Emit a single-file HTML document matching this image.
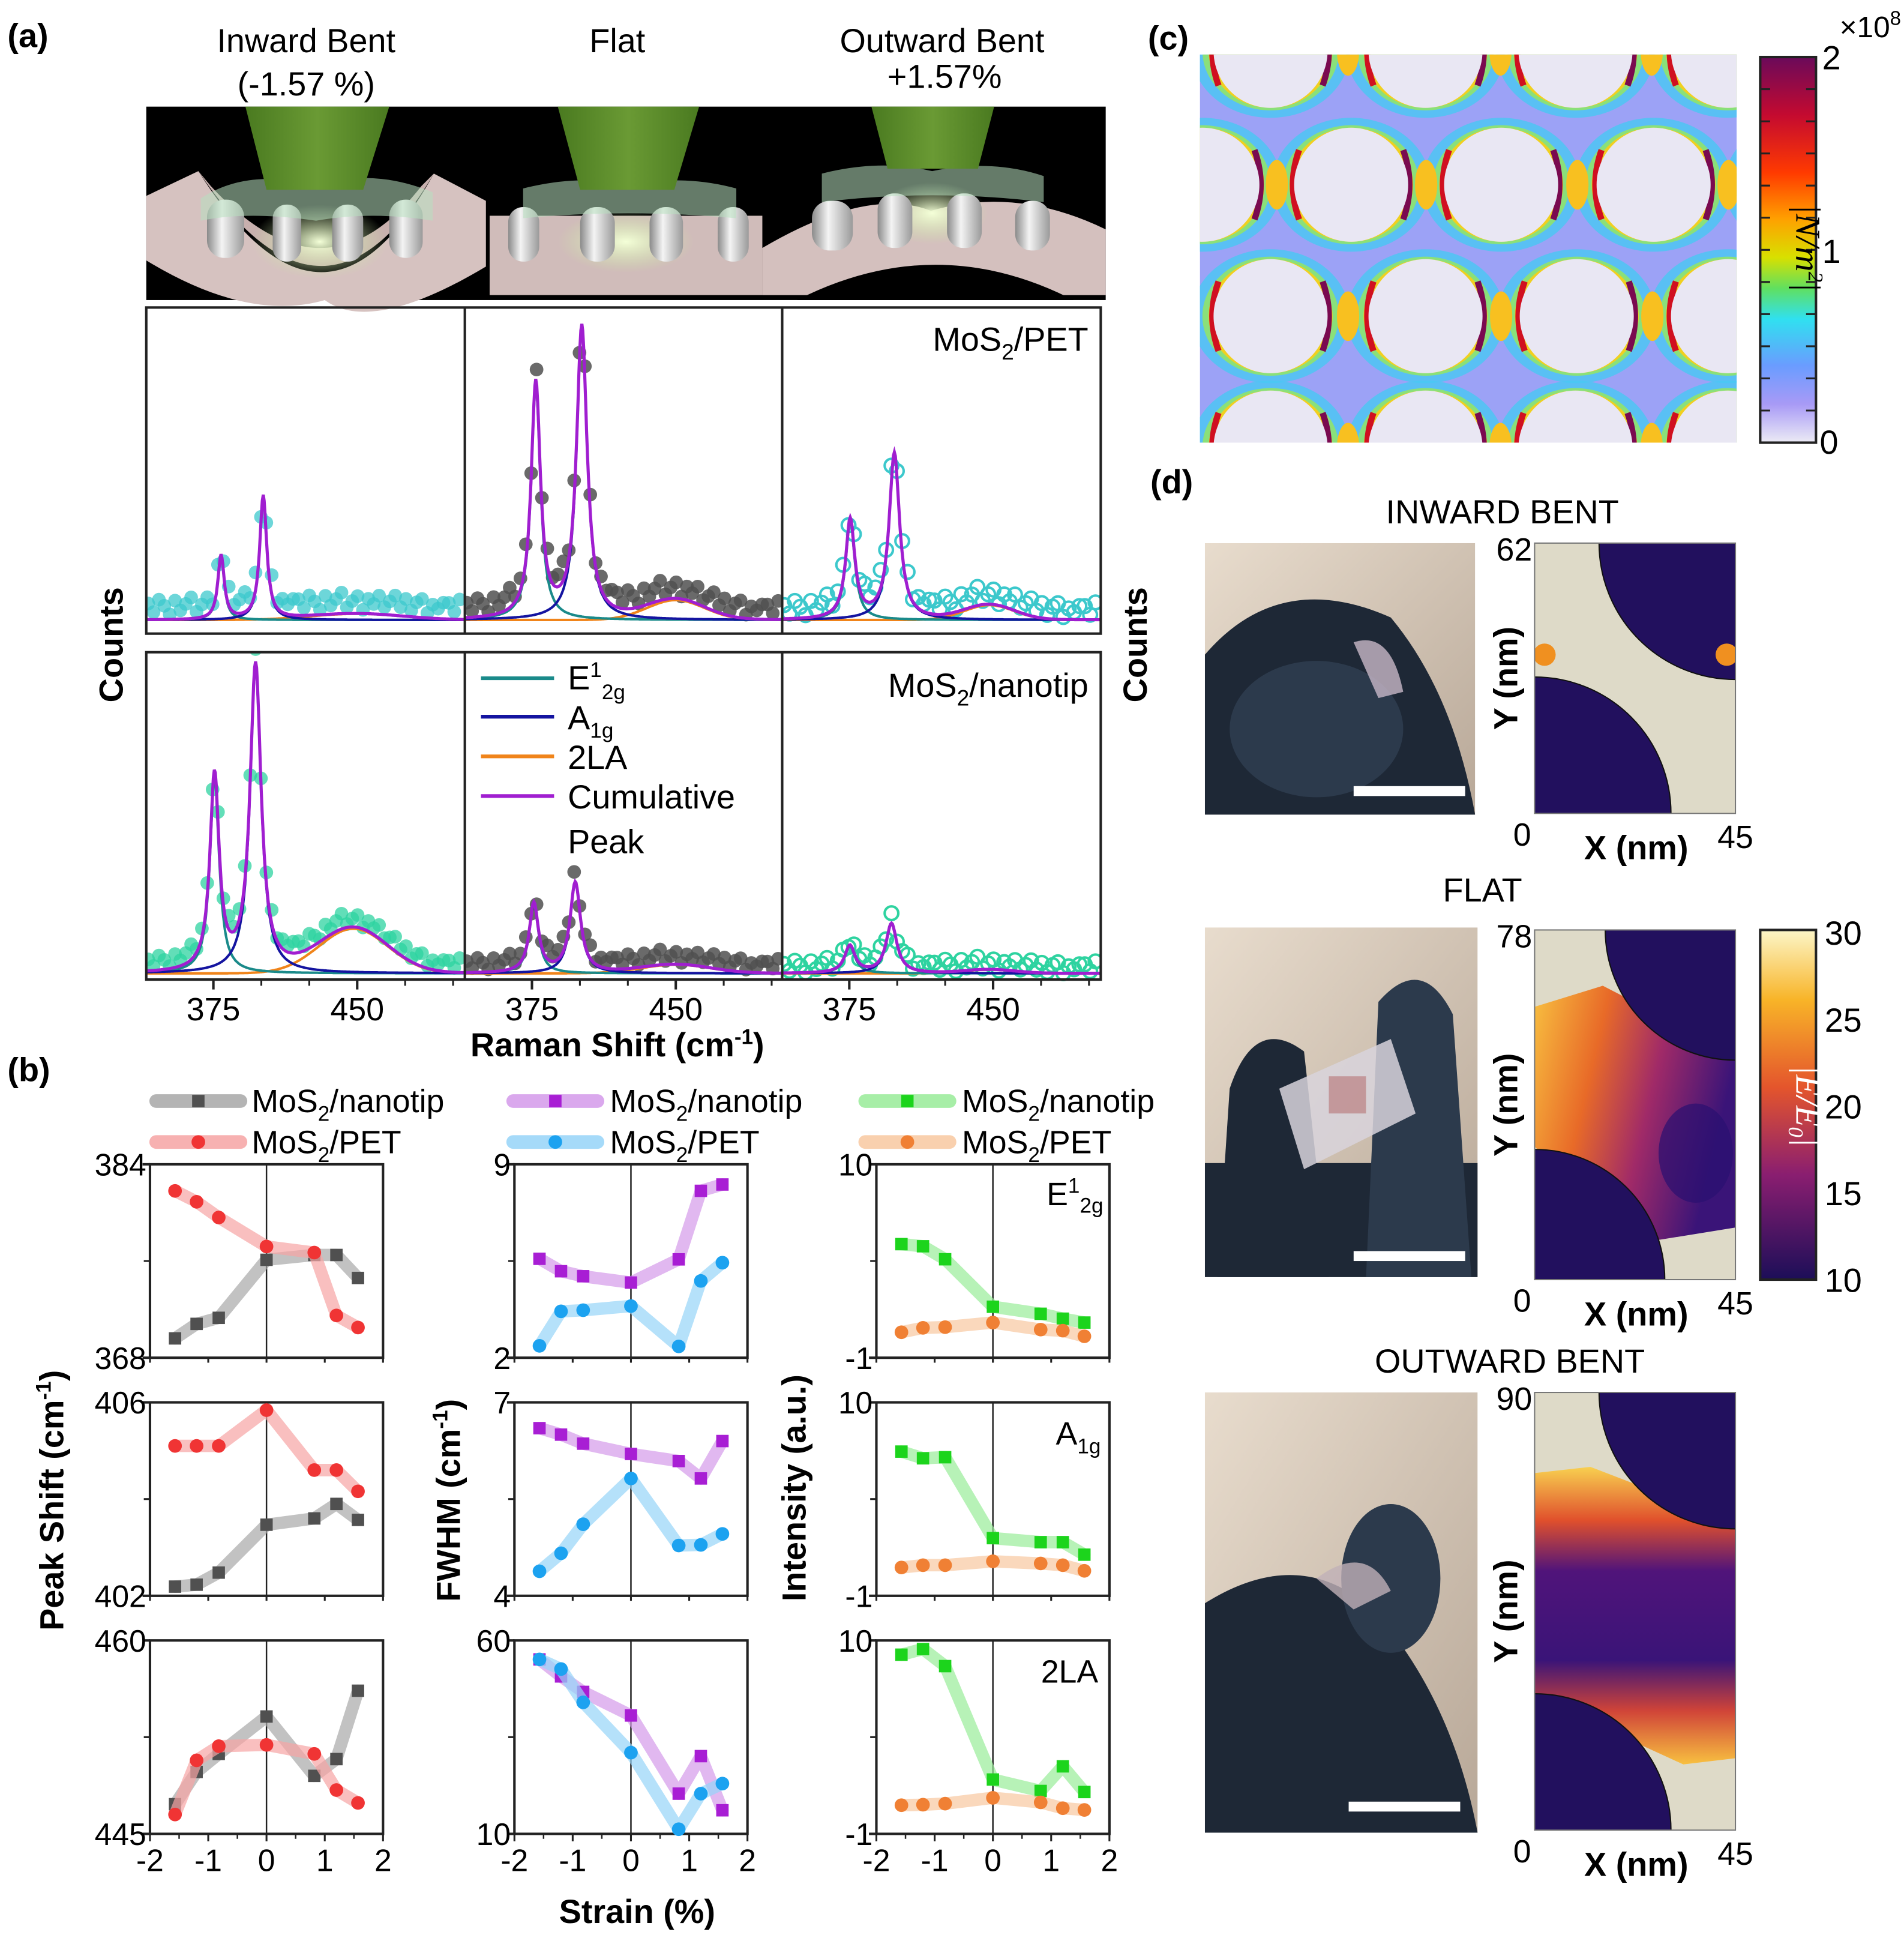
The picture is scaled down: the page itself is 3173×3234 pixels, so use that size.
<!DOCTYPE html>
<html><head><meta charset="utf-8">
<style>
html,body{margin:0;padding:0;background:#fff;}
svg{display:block;font-family:"Liberation Sans",Arial,sans-serif;}
</style></head>
<body>
<svg id="fig" xmlns="http://www.w3.org/2000/svg" width="3173" height="3234" viewBox="0 0 1536 1565.4" preserveAspectRatio="none">
<defs>
<linearGradient id="cbN" x1="0" y1="0" x2="0" y2="1">
<stop offset="0" stop-color="#6a0a5a"/><stop offset="0.15" stop-color="#c40a30"/><stop offset="0.3" stop-color="#ff3a00"/><stop offset="0.42" stop-color="#ffa000"/><stop offset="0.52" stop-color="#d8e000"/><stop offset="0.6" stop-color="#60e060"/><stop offset="0.68" stop-color="#30e0f0"/><stop offset="0.8" stop-color="#6a9cff"/><stop offset="0.9" stop-color="#a89af6"/><stop offset="1" stop-color="#ecebf5"/>
</linearGradient>
<linearGradient id="cbE" x1="0" y1="0" x2="0" y2="1">
<stop offset="0" stop-color="#fcf6c8"/><stop offset="0.2" stop-color="#f8b428"/><stop offset="0.45" stop-color="#e4552c"/><stop offset="0.7" stop-color="#8a1e70"/><stop offset="1" stop-color="#1c0e58"/>
</linearGradient>
<linearGradient id="flatField" x1="0" y1="0" x2="1" y2="0.3">
<stop offset="0" stop-color="#f8c040"/><stop offset="0.35" stop-color="#e86a28"/><stop offset="0.65" stop-color="#a02a68"/><stop offset="1" stop-color="#3a1478"/>
</linearGradient>
<linearGradient id="outField" x1="0" y1="0" x2="0" y2="1">
<stop offset="0" stop-color="#f8d050"/><stop offset="0.18" stop-color="#e0502c"/><stop offset="0.35" stop-color="#50147a"/><stop offset="0.65" stop-color="#3a1478"/><stop offset="0.82" stop-color="#d04438"/><stop offset="1" stop-color="#f8c040"/>
</linearGradient>
<radialGradient id="glow" cx="0.5" cy="0.5" r="0.5"><stop offset="0" stop-color="#f4ffd8"/><stop offset="1" stop-color="#c8e8a0" stop-opacity="0"/></radialGradient>
<linearGradient id="pill" x1="0" y1="0" x2="1" y2="0"><stop offset="0" stop-color="#8a8a8a"/><stop offset="0.4" stop-color="#f4f4f4"/><stop offset="1" stop-color="#9a9a9a"/></linearGradient>
<linearGradient id="cone" x1="0" y1="0" x2="1" y2="0"><stop offset="0" stop-color="#4a7a20"/><stop offset="0.5" stop-color="#6a9a34"/><stop offset="1" stop-color="#4a7a20"/></linearGradient>
<linearGradient id="photoBg" x1="0" y1="0" x2="1" y2="1"><stop offset="0" stop-color="#e8dccd"/><stop offset="1" stop-color="#b8a898"/></linearGradient>
</defs>

<text x="6" y="38" font-size="27" font-weight="bold">(a)</text>
<text x="6" y="872" font-size="27" font-weight="bold">(b)</text>
<text x="926" y="40" font-size="27" font-weight="bold">(c)</text>
<text x="928" y="398" font-size="27" font-weight="bold">(d)</text>

<g font-size="27" text-anchor="middle">
<text x="247" y="42">Inward Bent</text>
<text x="247" y="77">(-1.57 %)</text>
<text x="498" y="42">Flat</text>
<text x="760" y="42">Outward Bent</text>
<text x="762" y="71">+1.57%</text>
</g>

<g>
<rect x="118" y="86" width="774" height="156" fill="#000"/>
<path d="M118,158 L160,138 Q262,300 350,140 L392,162 L392,215 Q300,270 262,242 Q200,260 118,210 Z" fill="#d6c2c0"/>
<path d="M160,138 Q262,290 350,140 L340,150 Q262,250 170,150 Z" fill="#c8b0ae"/>
<ellipse cx="258" cy="195" rx="55" ry="30" fill="url(#glow)"/>
<g fill="url(#pill)"><rect x="167" y="161" width="30" height="47" rx="14"/><rect x="220" y="165" width="23" height="46" rx="11"/><rect x="268" y="165" width="25" height="46" rx="12"/><rect x="314" y="161" width="27" height="47" rx="13"/></g>
<path d="M162,160 Q200,135 255,150 Q300,135 349,155 L349,178 Q300,170 255,178 Q200,170 162,178 Z" fill="#b8e0c0" opacity="0.55"/>
<polygon points="198,86 314,86 293,153 215,153" fill="url(#cone)"/>
<rect x="395" y="174" width="220" height="64" fill="#d0bcba"/>
<ellipse cx="505" cy="195" rx="55" ry="25" fill="url(#glow)"/>
<g fill="url(#pill)"><rect x="410" y="167" width="25" height="44" rx="12"/><rect x="468" y="167" width="28" height="44" rx="13"/><rect x="524" y="167" width="27" height="44" rx="13"/><rect x="579" y="167" width="25" height="44" rx="12"/></g>
<path d="M422,152 Q470,140 505,150 Q550,140 594,152 L594,176 Q505,168 422,176 Z" fill="#b8e0c0" opacity="0.55"/>
<polygon points="450,86 564,86 544,153 468,153" fill="url(#cone)"/>
<path d="M615,238 L615,200 Q700,150 751,170 Q820,150 892,185 L892,238 Z" fill="#d4c0be"/>
<path d="M643,242 Q755,185 866,242 Z" fill="#000"/>
<ellipse cx="752" cy="172" rx="45" ry="25" fill="url(#glow)"/>
<g fill="url(#pill)"><rect x="655" y="162" width="33" height="40" rx="14"/><rect x="708" y="156" width="28" height="44" rx="13"/><rect x="764" y="156" width="28" height="44" rx="13"/><rect x="819" y="162" width="28" height="40" rx="13"/></g>
<path d="M663,140 Q710,128 752,138 Q800,128 842,142 L842,163 Q752,152 663,163 Z" fill="#b8e0c0" opacity="0.55"/>
<polygon points="703,86 802,86 789,136 716,136" fill="url(#cone)"/>
</g>

<g id="raman"></g>
<text x="0" y="0" font-size="27" font-weight="bold" text-anchor="middle" transform="translate(99,520) rotate(-90)">Counts</text>
<text x="498" y="852" font-size="27" font-weight="bold" text-anchor="middle">Raman Shift (cm<tspan dy="-10" font-size="17">-1</tspan><tspan dy="10">)</tspan></text>
<text x="0" y="0" font-size="27" font-weight="bold" text-anchor="middle" transform="translate(925,520) rotate(-90)">Counts</text>
<text x="878" y="283" font-size="27" text-anchor="end">MoS<tspan dy="7" font-size="18">2</tspan><tspan dy="-7">/PET</tspan></text>
<text x="878" y="562" font-size="27" text-anchor="end">MoS<tspan dy="7" font-size="18">2</tspan><tspan dy="-7">/nanotip</tspan></text>
<g font-size="27">
<line x1="388" y1="547" x2="447" y2="547" stroke="#1a8a8a" stroke-width="3"/>
<text x="458" y="556">E<tspan dy="-10" font-size="17">1</tspan><tspan dy="18" font-size="17">2g</tspan></text>
<line x1="388" y1="578" x2="447" y2="578" stroke="#1414a0" stroke-width="3"/>
<text x="458" y="588">A<tspan dy="7" font-size="17">1g</tspan></text>
<line x1="388" y1="610" x2="447" y2="610" stroke="#f0841a" stroke-width="3"/>
<text x="458" y="620">2LA</text>
<line x1="388" y1="642" x2="447" y2="642" stroke="#a01ed0" stroke-width="3"/>
<text x="458" y="652">Cumulative</text>
<text x="458" y="688">Peak</text>
</g>

<g font-size="26">
<text x="203" y="897">MoS<tspan dy="7" font-size="17">2</tspan><tspan dy="-7">/nanotip</tspan></text>
<text x="203" y="930">MoS<tspan dy="7" font-size="17">2</tspan><tspan dy="-7">/PET</tspan></text>
<text x="492" y="897">MoS<tspan dy="7" font-size="17">2</tspan><tspan dy="-7">/nanotip</tspan></text>
<text x="492" y="930">MoS<tspan dy="7" font-size="17">2</tspan><tspan dy="-7">/PET</tspan></text>
<text x="776" y="897">MoS<tspan dy="7" font-size="17">2</tspan><tspan dy="-7">/nanotip</tspan></text>
<text x="776" y="930">MoS<tspan dy="7" font-size="17">2</tspan><tspan dy="-7">/PET</tspan></text>
</g>
<g id="strain"></g>
<text font-size="27" font-weight="bold" text-anchor="middle" transform="translate(51,1210) rotate(-90)">Peak Shift (cm<tspan dy="-10" font-size="17">-1</tspan><tspan dy="10">)</tspan></text>
<text font-size="27" font-weight="bold" text-anchor="middle" transform="translate(371,1210) rotate(-90)">FWHM (cm<tspan dy="-10" font-size="17">-1</tspan><tspan dy="10">)</tspan></text>
<text font-size="27" font-weight="bold" text-anchor="middle" transform="translate(650,1200) rotate(-90)">Intensity (a.u.)</text>
<text x="514" y="1551" font-size="27" font-weight="bold" text-anchor="middle">Strain (%)</text>
<text x="890" y="972" font-size="26" text-anchor="end">E<tspan dy="-10" font-size="17">1</tspan><tspan dy="16" font-size="17">2g</tspan></text>
<text x="888" y="1165" font-size="26" text-anchor="end">A<tspan dy="7" font-size="17">1g</tspan></text>
<text x="886" y="1357" font-size="26" text-anchor="end">2LA</text>

<g>
<clipPath id="clipC"><rect x="968" y="44" width="433" height="313"/></clipPath>
<g id="stressMap" clip-path="url(#clipC)"></g>
</g>
<rect x="1420" y="46" width="45" height="311" fill="url(#cbN)" stroke="#222" stroke-width="2"/>
<g stroke="#222" stroke-width="1.5" id="cbNticks"></g>
<text font-size="28" font-style="italic" font-family="Liberation Serif,serif" text-anchor="middle" transform="translate(1449,200) rotate(90)">|N/m<tspan dy="-10" font-size="17">2</tspan><tspan dy="10">|</tspan></text>
<g font-size="27">
<text x="1470" y="56">2</text>
<text x="1470" y="212">1</text>
<text x="1468" y="366">0</text>
<text x="1484" y="30" font-size="24">×10<tspan dy="-10" font-size="16">8</tspan></text>
</g>

<g font-size="27" text-anchor="middle">
<text x="1212" y="422">INWARD BENT</text>
<text x="1196" y="727">FLAT</text>
<text x="1218" y="1107">OUTWARD BENT</text>
</g>
<g id="photos"></g>
<g id="maps"></g>
<rect x="1420" y="750" width="45" height="282" fill="url(#cbE)" stroke="#222" stroke-width="2"/>
<text font-size="28" font-style="italic" font-family="Liberation Serif,serif" text-anchor="middle" fill="#fff" transform="translate(1449,892) rotate(90)">|E/E<tspan dy="6" font-size="17">0</tspan><tspan dy="-6">|</tspan></text>
<g font-size="27">
<text x="1472" y="762">30</text>
<text x="1472" y="832">25</text>
<text x="1472" y="902">20</text>
<text x="1472" y="972">15</text>
<text x="1472" y="1042">10</text>
</g>
</svg>

<script>
// ---------------- Raman data ----------------
const ramanPeakE = [379.0, 377.0, 375.5, 375.6, 376.0, 375.3];
const ramanPeakA = [401.0, 401.0, 398.5, 397.0, 397.6, 397.0];
const ramanPeak2LA = [450, 450, 448, 448, 450, 448];
const ramanHeightE = [52, 190, 80, 158, 56, 22];
const ramanHeightA = [100, 236, 134, 248, 73, 40];
const ramanHeight2LA = [5, 16, 12, 36, 7, 3];
const ramanWidthE = [2.0, 2.9, 2.9, 2.9, 2.9, 3.3];
const ramanWidthA = [2.2, 3.3, 3.3, 3.5, 3.3, 3.5];
const ramanWidth2LA = [24, 15, 13, 18, 18, 13];
const ramanNoise = [4,-3,7,2,-5,6,-2,3,8,-4,1,5,-6,3,-1,6,-3,2,7,-2,5,-4,3,6,-5,2,-1,4];
const ramanDotOffset = [9, 8, 7, 6, 6, 4];
const ramanTicks = [375, 450];
const ramanMinorTicks = [400, 425, 475, 500];

// ---------------- Strain data ----------------
const strainX = [-1.57, -1.2, -0.82, 0, 0.82, 1.2, 1.57];
const strainTicks = [-2, -1, 0, 1, 2];
const shiftE_nanotip = [369.6, 370.8, 371.3, 376.1, 376.5, 376.5, 374.6];
const shiftE_pet = [381.8, 380.9, 379.6, 377.2, 376.7, 371.5, 370.5];
const shiftA_pet = [405.1, 405.1, 405.1, 405.84, 404.6, 404.6, 404.16];
const shiftA_nanotip = [402.19, 402.23, 402.48, 403.47, 403.6, 403.9, 403.57];
const shift2LA_nanotip = [447.3, 449.8, 451.2, 454.1, 449.5, 450.8, 456.1];
const shift2LA_pet = [446.5, 450.7, 451.8, 451.9, 451.2, 448.4, 447.4];
const fwhmE_nanotip = [5.58, 5.13, 4.95, 4.72, 5.56, 8.04, 8.27];
const fwhmE_pet = [2.43, 3.68, 3.72, 3.87, 2.41, 4.78, 5.44];
const fwhmA_nanotip = [6.6, 6.5, 6.36, 6.2, 6.09, 5.82, 6.4];
const fwhmA_pet = [4.38, 4.66, 5.11, 5.82, 4.78, 4.79, 4.96];
const fwhm2LA_nanotip = [55.1, 50.7, 46.7, 40.6, 20.4, 30.1, 16.1];
const fwhm2LA_pet = [55.1, 52.6, 44.0, 31.0, 11.2, 20.4, 23.0];
const intE_nanotip = [5.46, 5.34, 4.6, 1.9, 1.5, 1.22, 1.0];
const intE_pet = [0.45, 0.7, 0.74, 1.0, 0.6, 0.54, 0.22];
const intA_nanotip = [7.2, 6.82, 6.88, 2.28, 2.05, 2.05, 1.34];
const intA_pet = [0.61, 0.74, 0.74, 0.96, 0.84, 0.74, 0.42];
const int2LA_nanotip = [9.19, 9.51, 8.54, 2.09, 1.44, 2.84, 1.38];
const int2LA_pet = [0.63, 0.66, 0.72, 1.05, 0.79, 0.46, 0.36];

const NS = 'http://www.w3.org/2000/svg';
function mk(tag, attrs, parent){ const e=document.createElementNS(NS,tag); for(const k in attrs) e.setAttribute(k,attrs[k]); parent.appendChild(e); return e; }

// ---------------- Raman drawing ----------------
(function(){
  const g = document.getElementById('raman');
  const colsX = [118, 375, 631];
  const rowsTop = [248, 525];
  const rowsBase = [500, 785];
  const cmMin = 340, cmMax = 506;
  const ppc = 1.547;
  const dotStyle = [
    {fill:'#3cc8cc', stroke:'none', op:0.75},
    {fill:'#505050', stroke:'none', op:0.85},
    {fill:'none', stroke:'#3cc8cc', op:1},
    {fill:'#2ed3a0', stroke:'none', op:0.75},
    {fill:'#505050', stroke:'none', op:0.85},
    {fill:'none', stroke:'#2ed3a0', op:1}
  ];
  for(let p=0;p<6;p++){
    const r = Math.floor(p/3), c = p%3;
    const x0 = colsX[c], base = rowsBase[r];
    const xs = cm => x0 + (cm-cmMin)*ppc;
    const ys = v => base - v;
    const fE = x => ramanHeightE[p]/(1+Math.pow((x-ramanPeakE[p])/ramanWidthE[p],2));
    const fA = x => ramanHeightA[p]/(1+Math.pow((x-ramanPeakA[p])/ramanWidthA[p],2));
    const fL = x => ramanHeight2LA[p]*Math.exp(-Math.pow((x-ramanPeak2LA[p])/ramanWidth2LA[p],2)/2);
    const fC = x => fE(x)+fA(x)+fL(x);
    const clipId = 'rc'+p;
    const cp = mk('clipPath',{id:clipId},g);
    mk('rect',{x:x0,y:rowsTop[r],width:257,height:base-rowsTop[r]+10},cp);
    const pg = mk('g',{'clip-path':'url(#'+clipId+')'},g);
    let i=0;
    for(let x=cmMin+1;x<=cmMax-1;x+=2.8){
      const v = fC(x) + ramanDotOffset[p] + ramanNoise[i%ramanNoise.length]*(r===0?1:0.8);
      const st = dotStyle[p];
      const d = mk('circle',{cx:xs(x),cy:ys(v),r:5.5,fill:st.fill,stroke:st.stroke,'stroke-width':2,opacity:st.op},pg);
      
      
      i++;
    }
    const fns = [[fL,'#f0841a'],[fE,'#1a8a8a'],[fA,'#1414a0'],[fC,'#a01ed0']];
    const names = ['curve-2la','curve-e12g','curve-a1g','curve-cumulative'];
    fns.forEach((f,k)=>{
      const fn = f[0];
      let pts=[];
      for(let x=cmMin;x<=cmMax;x+=0.5) pts.push(xs(x).toFixed(1)+','+ys(fn(x)).toFixed(1));
      const l = mk('polyline',{points:pts.join(' '),fill:'none',stroke:f[1],'stroke-width':k===3?2.5:2},pg);
      
      
    });
  }
  const fr1 = mk('rect',{x:118,y:248,width:770,height:263,fill:'none',stroke:'#222','stroke-width':2},g);
  
  
  const fr2 = mk('rect',{x:118,y:526,width:770,height:264,fill:'none',stroke:'#222','stroke-width':2},g);
  
  
  [375,631].forEach(x=>{
    mk('line',{x1:x,y1:248,x2:x,y2:511,stroke:'#222','stroke-width':2},g);
    mk('line',{x1:x,y1:526,x2:x,y2:790,stroke:'#222','stroke-width':2},g);
  });
  colsX.forEach(x0=>{
    ramanTicks.forEach(t=>{
      const x = x0+(t-cmMin)*ppc;
      mk('line',{x1:x,y1:790,x2:x,y2:798,stroke:'#222','stroke-width':2},g);
      const tx = mk('text',{x:x,y:823,'font-size':26,'text-anchor':'middle'},g);
      tx.textContent = t;
      
      
    });
    ramanMinorTicks.forEach(t=>{
      const x = x0+(t-cmMin)*ppc;
      mk('line',{x1:x,y1:790,x2:x,y2:795,stroke:'#222','stroke-width':1.5},g);
    });
  });
})();

// ---------------- Strain drawing ----------------
(function(){
  const g = document.getElementById('strain');
  const colX = [121, 415, 707], W = 188;
  const rowY = [939, 1131, 1323], H = 156;
  const ranges = [[[368,384],[402,406],[445,460]],[[2,9],[4,7],[10,60]],[[-1,10],[-1,10],[-1,10]]];
  const series = [
    [[shiftE_nanotip, shiftE_pet],[shiftA_nanotip, shiftA_pet],[shift2LA_nanotip, shift2LA_pet]],
    [[fwhmE_nanotip, fwhmE_pet],[fwhmA_nanotip, fwhmA_pet],[fwhm2LA_nanotip, fwhm2LA_pet]],
    [[intE_nanotip, intE_pet],[intA_nanotip, intA_pet],[int2LA_nanotip, int2LA_pet]]
  ];
  const colors = [
    [['#a8a8a8','#505050'],['#f6a4a4','#f03434']],
    [['#d49aea','#a81ed4'],['#96d4f8','#1ca2f0']],
    [['#98ec98','#1cd41c'],['#f8c8a0','#f08034']]
  ];
  for(let c=0;c<3;c++){
    const ly = [888, 921];
    const lx0 = [126,414,698][c];
    for(let s=0;s<2;s++){
      const col = colors[c][s];
      mk('line',{x1:lx0,y1:ly[s],x2:lx0+68,y2:ly[s],stroke:col[0],'stroke-width':11,'stroke-linecap':'round',opacity:0.85},g);
      if(s===0){ const m=mk('rect',{x:lx0+29,y:ly[s]-5,width:10,height:10,fill:col[1]},g);   }
      else { const m=mk('circle',{cx:lx0+34,cy:ly[s],r:5.5,fill:col[1]},g);   }
    }
    for(let r=0;r<3;r++){
      const x0=colX[c], y0=rowY[r];
      const ymin=ranges[c][r][0], ymax=ranges[c][r][1];
      const xs = v => x0 + (v+2)/4*W;
      const ys = v => y0 + H - (v-ymin)/(ymax-ymin)*H;
      const frame = mk('rect',{x:x0,y:y0,width:W,height:H,fill:'none',stroke:'#222','stroke-width':2},g);
      
      
      mk('line',{x1:xs(0),y1:y0,x2:xs(0),y2:y0+H,stroke:'#222','stroke-width':1.2},g);
      [ymin,ymax].forEach(v=>{
        mk('line',{x1:x0-6,y1:ys(v),x2:x0,y2:ys(v),stroke:'#222','stroke-width':2},g);
        const t = mk('text',{x:x0-3,y:ys(v)+9,'font-size':25,'text-anchor':'end'},g);
        t.textContent = v;
        
        
      });
      mk('line',{x1:x0-5,y1:ys((ymin+ymax)/2),x2:x0,y2:ys((ymin+ymax)/2),stroke:'#222','stroke-width':1.5},g);
      strainTicks.forEach(v=>{
        mk('line',{x1:xs(v),y1:y0+H,x2:xs(v),y2:y0+H+(r===2?6:4),stroke:'#222','stroke-width':1.5},g);
        if(r===2){
          const t = mk('text',{x:xs(v),y:y0+H+30,'font-size':25,'text-anchor':'middle'},g);
          t.textContent = v;
          
          
        }
      });
      if(r===2) [-1.5,-0.5,0.5,1.5].forEach(v=>{ mk('line',{x1:xs(v),y1:y0+H,x2:xs(v),y2:y0+H+4,stroke:'#222','stroke-width':1.2},g); });
      for(let s=0;s<2;s++){
        const data = series[c][r][s];
        const col = colors[c][s];
        const pts = strainX.map((x,i)=>xs(x).toFixed(1)+','+ys(data[i]).toFixed(1)).join(' ');
        const line = mk('polyline',{points:pts,fill:'none',stroke:col[0],'stroke-width':10,'stroke-linejoin':'round','stroke-linecap':'round',opacity:0.7},g);
        
        
        strainX.forEach((x,i)=>{
          let m;
          if(s===0) m = mk('rect',{x:xs(x)-5,y:ys(data[i])-5,width:10,height:10,fill:col[1]},g);
          else m = mk('circle',{cx:xs(x),cy:ys(data[i]),r:5.5,fill:col[1]},g);
          
          
        });
      }
    }
  }
})();

// ---------------- (c) stress map ----------------
(function(){
  const g = document.getElementById('stressMap');
  mk('rect',{x:968,y:44,width:433,height:313,fill:'#9ca2f6'},g);
  const rowsY = [41,149,255,361];
  const rowsX = [[1025,1150,1271,1394],[970,1090,1211,1334,1455],[1025,1150,1272,1394],[1025,1150,1271,1394]];
  const R = 46;
  rowsY.forEach((cy,ri)=>{
    rowsX[ri].forEach(cx=>{
      mk('ellipse',{cx:cx,cy:cy,rx:R+18,ry:R+8,fill:'#48c8f4',opacity:0.8},g);
    });
  });
  rowsY.forEach((cy,ri)=>{
    rowsX[ri].forEach(cx=>{
      mk('ellipse',{cx:cx,cy:cy,rx:R+9,ry:R+2,fill:'#8ae07a'},g);
      mk('ellipse',{cx:cx,cy:cy,rx:R+4,ry:R,fill:'#f0d020'},g);
    });
  });
  rowsY.forEach((cy,ri)=>{
    const xsRow = rowsX[ri];
    for(let k=0;k<xsRow.length-1;k++){
      const mx=(xsRow[k]+xsRow[k+1])/2;
      mk('ellipse',{cx:mx,cy:cy,rx:9,ry:20,fill:'#f8c020'},g);
    }
    xsRow.forEach(cx=>{
      mk('path',{d:`M${cx-R+4},${cy-28} Q${cx-R-6},${cy} ${cx-R+4},${cy+28}`,fill:'none',stroke:'#d01020','stroke-width':5},g);
      mk('path',{d:`M${cx+R-4},${cy-28} Q${cx+R+6},${cy} ${cx+R-4},${cy+28}`,fill:'none',stroke:'#7a0a50','stroke-width':5},g);
      const c = mk('ellipse',{cx:cx,cy:cy,rx:R,ry:R,fill:'#e9e7f3'},g);
      
      
    });
  });
  const cbt = document.getElementById('cbNticks');
  for(let k=1;k<12;k++){ const y=46+k*311/12; mk('line',{x1:1420,y1:y,x2:1428,y2:y},cbt); mk('line',{x1:1457,y1:y,x2:1465,y2:y},cbt); }
})();

// ---------------- (d) photos ----------------
(function(){
  const g = document.getElementById('photos');
  const boxes = [[972,438,218,219,638],[972,748,220,282,1013],[972,1123,220,355,1457]];
  boxes.forEach((b,i)=>{
    const x=b[0],y=b[1],w=b[2],h=b[3],sb=b[4];
    const cp = mk('clipPath',{id:'ph'+i},g);
    mk('rect',{x:x,y:y,width:w,height:h},cp);
    const pg = mk('g',{'clip-path':'url(#ph'+i+')'},g);
    const bg = mk('rect',{x:x,y:y,width:w,height:h,fill:'url(#photoBg)'},pg);
    
    
    const glove='#1e2836', glove2='#2c3a4c';
    if(i===0){
      mk('path',{d:`M${x},${y+90} Q${x+60},${y+20} ${x+150},${y+60} Q${x+200},${y+120} ${x+218},${y+219} L${x},${y+219} Z`,fill:glove},pg);
      mk('ellipse',{cx:x+90,cy:y+150,rx:70,ry:55,fill:glove2},pg);
      mk('path',{d:`M${x+120},${y+80} Q${x+150},${y+70} ${x+160},${y+120} L${x+140},${y+125} Z`,fill:'#c8b8c8',opacity:0.8},pg);
    } else if(i===1){
      mk('rect',{x:x,y:y+190,width:w,height:100,fill:glove},pg);
      mk('path',{d:`M${x+10},${y+282} L${x+20},${y+130} Q${x+40},${y+70} ${x+80},${y+100} L${x+100},${y+282} Z`,fill:glove},pg);
      mk('path',{d:`M${x+130},${y+282} L${x+140},${y+60} Q${x+175},${y+20} ${x+200},${y+70} L${x+215},${y+282} Z`,fill:glove2},pg);
      mk('polygon',{points:`${x+60},${y+130} ${x+150},${y+90} ${x+170},${y+150} ${x+80},${y+195}`,fill:'#d8d4dc',opacity:0.85},pg);
      mk('rect',{x:x+100,y:y+120,width:30,height:30,fill:'#b06060',opacity:0.5},pg);
    } else {
      mk('path',{d:`M${x},${y+170} Q${x+80},${y+120} ${x+140},${y+180} Q${x+200},${y+250} ${x+220},${y+355} L${x},${y+355} Z`,fill:glove},pg);
      mk('ellipse',{cx:x+150,cy:y+150,rx:40,ry:60,fill:glove2},pg);
      mk('path',{d:`M${x+90},${y+150} Q${x+130},${y+120} ${x+150},${y+160} L${x+120},${y+175} Z`,fill:'#c0b0b8',opacity:0.8},pg);
    }
    const bar = mk('rect',{x:x+(i===2?116:120),y:sb-4,width:90,height:8,fill:'#fff'},g);
    
    
  });
})();

// ---------------- (d) field maps ----------------
(function(){
  const g = document.getElementById('maps');
  const maps = [[1238,438,162,218,'62',110],[1238,750,162,282,'78',105],[1238,1123,162,353,'90',110]];
  maps.forEach((m,i)=>{
    const x=m[0],y=m[1],w=m[2],h=m[3],top=m[4],R=m[5];
    const cp = mk('clipPath',{id:'mp'+i},g);
    mk('rect',{x:x,y:y,width:w,height:h},cp);
    const pg = mk('g',{'clip-path':'url(#mp'+i+')'},g);
    const bg = mk('rect',{x:x,y:y,width:w,height:h,fill:'#dedac8'},pg);
    
    
    if(i===1){
      mk('polygon',{points:`${x},${y+62} ${x+55},${y+45} ${x+162},${y+100} ${x+162},${y+240} ${x+100},${y+250} ${x},${y+175}`,fill:'url(#flatField)'},pg);
      mk('ellipse',{cx:x+130,cy:y+180,rx:30,ry:40,fill:'#2a1070',opacity:0.7},pg);
    } else if(i===2){
      mk('polygon',{points:`${x},${y+65} ${x+45},${y+60} ${x+162},${y+105} ${x+162},${y+295} ${x+120},${y+300} ${x},${y+245}`,fill:'url(#outField)'},pg);
    }
    mk('circle',{cx:x+w,cy:y,r:R,fill:'#22105e',stroke:'#111','stroke-width':1},pg);
    mk('circle',{cx:x,cy:y+h,r:R,fill:'#22105e',stroke:'#111','stroke-width':1},pg);
    if(i===0){
      mk('circle',{cx:x+8,cy:y+90,r:9,fill:'#f09020'},pg);
      mk('circle',{cx:x+155,cy:y+90,r:9,fill:'#f09020'},pg);
    }
    const fr = mk('rect',{x:x,y:y,width:w,height:h,fill:'none',stroke:'#777','stroke-width':1},g);
    
    
    const t1 = mk('text',{x:x-2,y:y+14,'font-size':26,'text-anchor':'end'},g); t1.textContent = top;
    
    
    const t0 = mk('text',{x:x-10,y:y+h+26,'font-size':26,'text-anchor':'middle'},g); t0.textContent = '0';
    
    
    const t45 = mk('text',{x:x+w,y:y+h+28,'font-size':26,'text-anchor':'middle'},g); t45.textContent = '45';
    
    
    const tx = mk('text',{x:x+82,y:y+h+37,'font-size':27,'font-weight':'bold','text-anchor':'middle'},g); tx.textContent = 'X (nm)';
    
    
    const ty = mk('text',{'font-size':27,'font-weight':'bold','text-anchor':'middle',transform:`translate(${x-14},${y+h/2}) rotate(-90)`},g); ty.textContent = 'Y (nm)';
    
    
  });
})();
</script>
</body></html>
